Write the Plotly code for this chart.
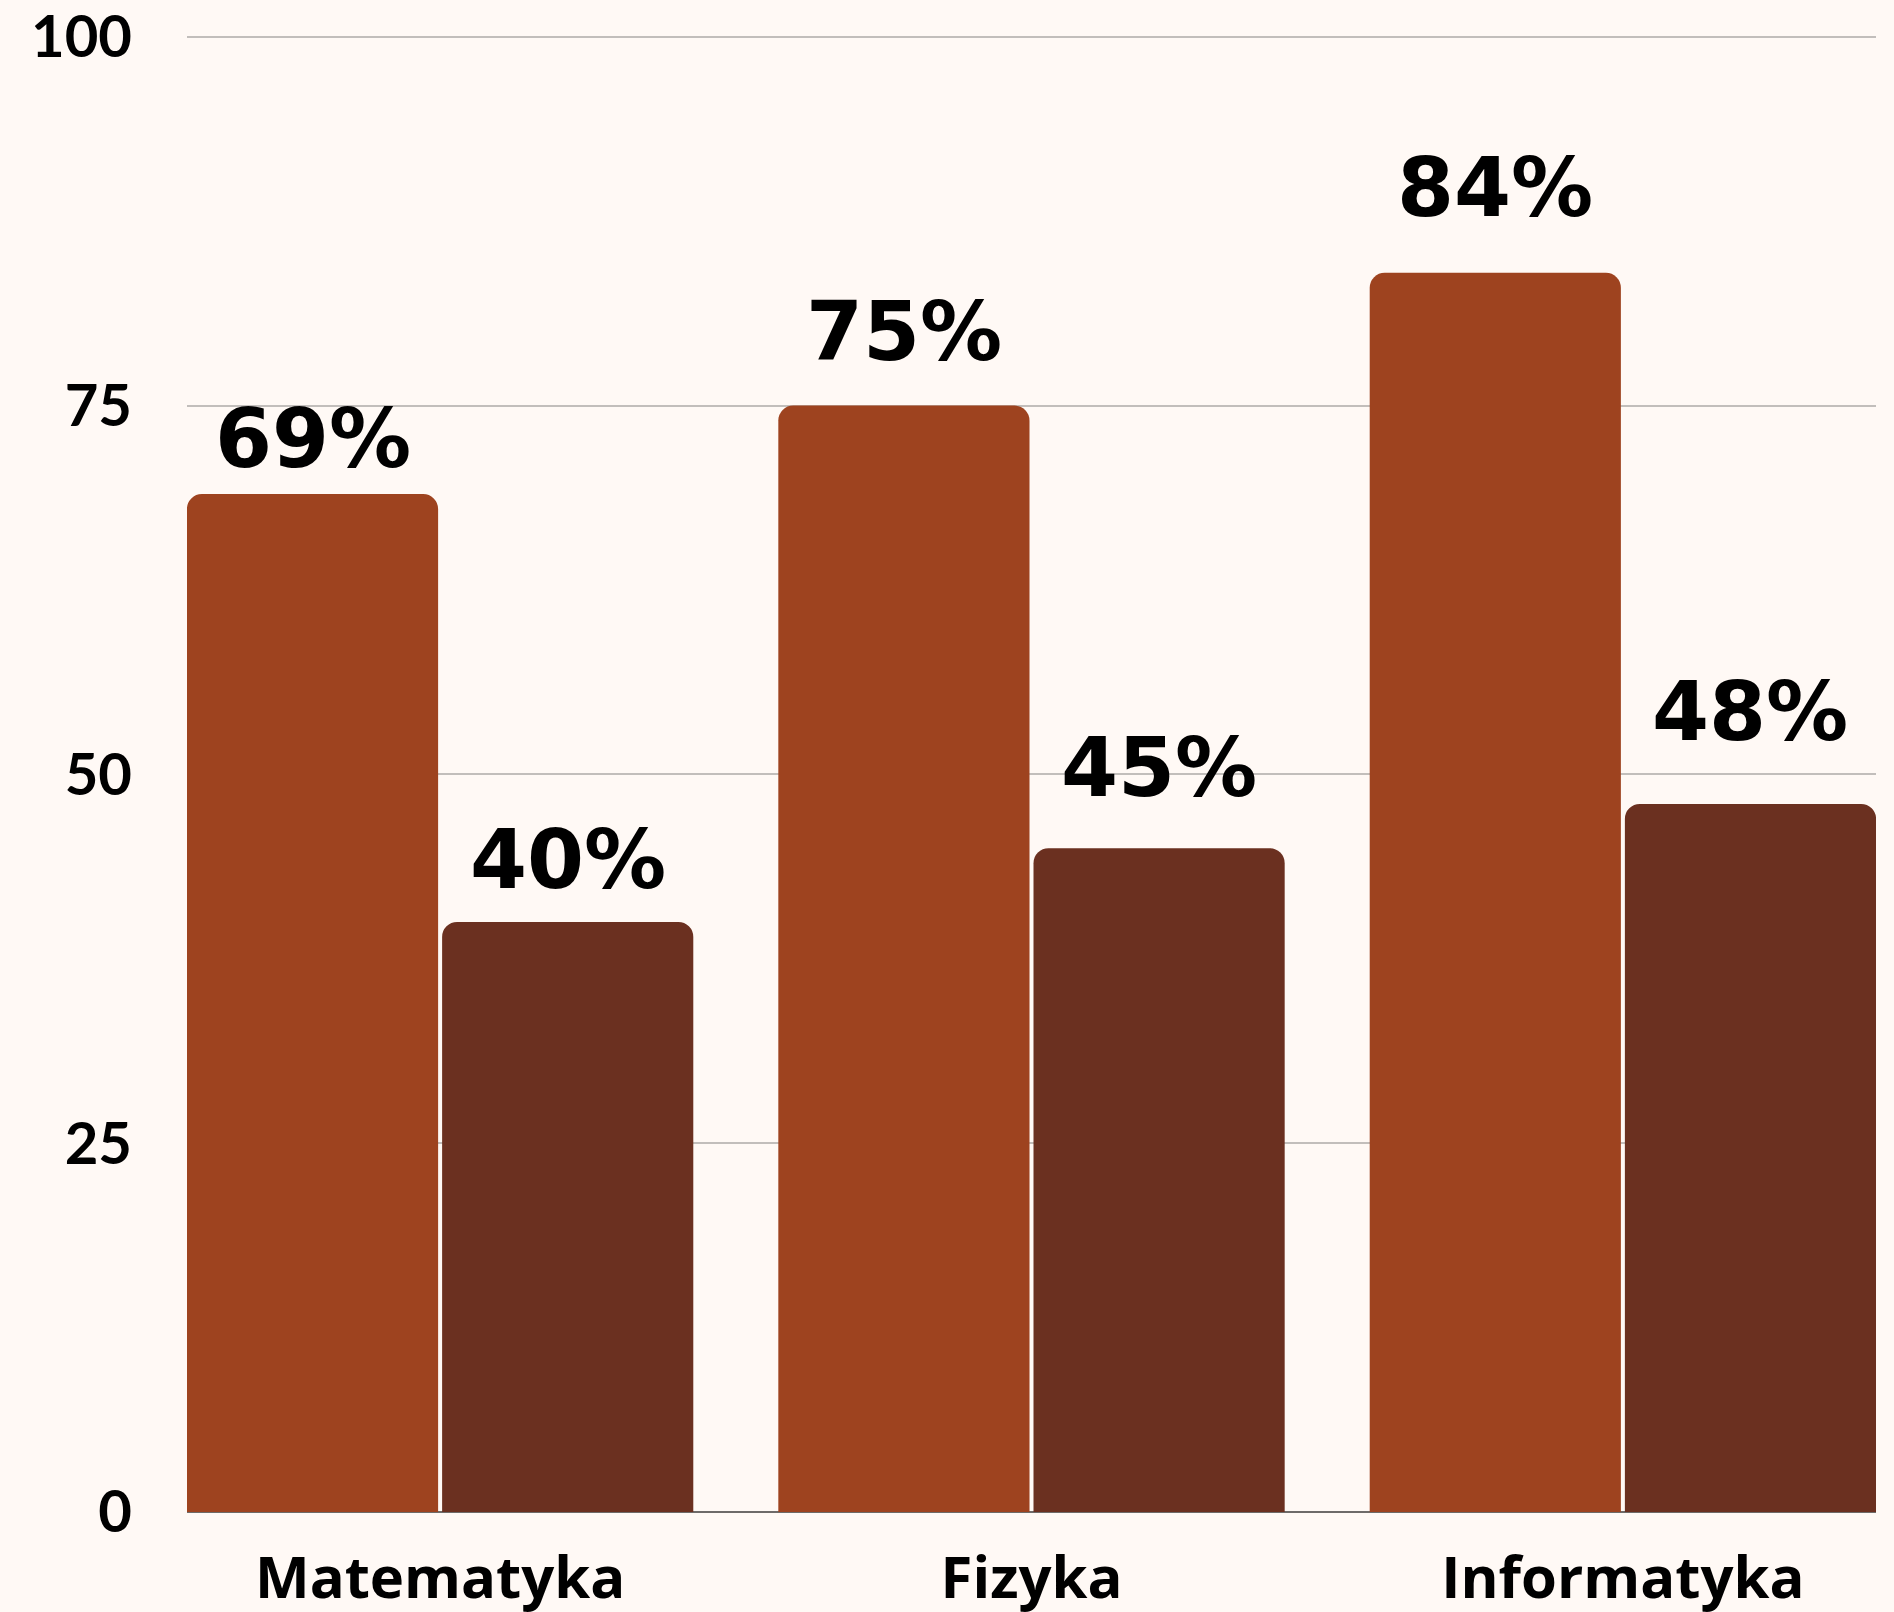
import plotly.graph_objects as go

categories = ["Matematyka", "Fizyka", "Informatyka"]
series_a = [69, 75, 84]
series_b = [40, 45, 48]
y_ticks = [0, 25, 50, 75, 100]

# style
BG = "#FFF9F5"
COL_A = "#9E431F"
COL_B = "#6B3020"
gap_a = [28, 47, 58]   # px between bar top and label baseline
gap_b = [35, 53, 65]
BAR_HALF_OFFSET = 127.5

fig = go.Figure()
fig.add_trace(go.Bar(x=categories, y=series_a, marker=dict(color=COL_A, cornerradius=15, line=dict(width=0)),
                     hoverinfo="skip"))
fig.add_trace(go.Bar(x=categories, y=series_b, marker=dict(color=COL_B, cornerradius=15, line=dict(width=0)),
                     hoverinfo="skip"))

label_font = dict(family="DejaVu Sans", size=82, color="#000000")
for cat, va, vb, ga, gb in zip(categories, series_a, series_b, gap_a, gap_b):
    for v, g, sh in ((va, ga, -BAR_HALF_OFFSET), (vb, gb, BAR_HALF_OFFSET)):
        fig.add_annotation(x=cat, y=v, text=f"<b>{v}%</b>", showarrow=False,
                           xshift=sh, yshift=g - 22, yanchor="bottom", xanchor="center",
                           font=label_font)

fig.update_layout(
    width=1894, height=1612,
    paper_bgcolor=BG, plot_bgcolor=BG,
    margin=dict(l=187, r=18, t=35, b=100),
    barmode="group", bargap=0.137, bargroupgap=0.0157,
    showlegend=False,
)
fig.update_xaxes(range=[-0.428, 2.428], showgrid=False, showline=False, zeroline=False,
                 automargin=False,
                 tickfont=dict(family="Open Sans", size=58, color="#000000", weight="bold"),
                 ticks="", ticklabelstandoff=27)
fig.update_yaxes(range=[0, 100.12], tickvals=y_ticks, ticktext=[str(t) for t in y_ticks],
                 automargin=False,
                 showgrid=True, gridcolor="#C2BEBB", gridwidth=1.5,
                 zeroline=True, zerolinecolor="#6E6B69", zerolinewidth=2,
                 showline=False, ticks="", ticklabelstandoff=54,
                 tickfont=dict(family="Lato", size=58, color="#000000", weight="bold"))

fig.write_html("out.html", config={"displayModeBar": False},
               post_script="document.body.style.margin='0';document.body.style.background='%s';" % BG)
